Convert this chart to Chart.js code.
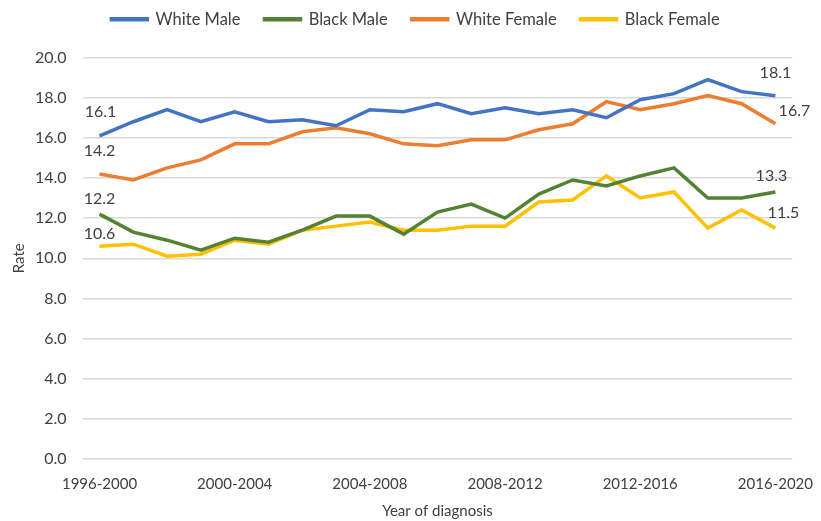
<!DOCTYPE html>
<html>
<head>
<meta charset="utf-8">
<script src="https://cdn.jsdelivr.net/npm/chart.js@4"></script>
<style>
  html, body { margin: 0; padding: 0; background: #fff; }
  #wrap { width: 821px; height: 521px; }
</style>
</head>
<body>
<div id="wrap"><canvas id="rateChart" width="821" height="521"></canvas></div>
<script>
// Year-of-diagnosis windows, 1996-2000 through 2016-2020
const periods = [];
for (let y = 1996; y <= 2016; y++) periods.push(y + '-' + (y + 4));

const whiteMale   = [16.1, 16.8, 17.4, 16.8, 17.3, 16.8, 16.9, 16.6, 17.4, 17.3, 17.7, 17.2, 17.5, 17.2, 17.4, 17.0, 17.9, 18.2, 18.9, 18.3, 18.1];
const blackMale   = [12.2, 11.3, 10.9, 10.4, 11.0, 10.8, 11.4, 12.1, 12.1, 11.2, 12.3, 12.7, 12.0, 13.2, 13.9, 13.6, 14.1, 14.5, 13.0, 13.0, 13.3];
const whiteFemale = [14.2, 13.9, 14.5, 14.9, 15.7, 15.7, 16.3, 16.5, 16.2, 15.7, 15.6, 15.9, 15.9, 16.4, 16.7, 17.8, 17.4, 17.7, 18.1, 17.7, 16.7];
const blackFemale = [10.6, 10.7, 10.1, 10.2, 10.9, 10.7, 11.4, 11.6, 11.8, 11.4, 11.4, 11.6, 11.6, 12.8, 12.9, 14.1, 13.0, 13.3, 11.5, 12.4, 11.5];

const yTicks = [0, 2, 4, 6, 8, 10, 12, 14, 16, 18, 20];

// where the first / last value labels sit relative to their point (per dataset)
const endLabelOffsets = [
    { first: [1, -24], last: [0, -23] },
    { first: [0, -15], last: [-4, -16] },
    { first: [0, -23], last: [19, -13] },
    { first: [0, -12], last: [8, -15] }
];

const textColor = '#404040';
const fontFamily = 'Lato, "Liberation Sans", sans-serif';

const endLabels = {
    id: 'endLabels',
    afterDatasetsDraw(chart) {
        const ctx = chart.ctx;
        ctx.save();
        ctx.font = '16px ' + fontFamily;
        ctx.fillStyle = textColor;
        ctx.textAlign = 'center';
        ctx.textBaseline = 'middle';
        chart.data.datasets.forEach((ds, i) => {
            const pts = chart.getDatasetMeta(i).data;
            const off = endLabelOffsets[i];
            const a = pts[0], b = pts[pts.length - 1];
            ctx.fillText(ds.data[0].toFixed(1), a.x + off.first[0], a.y + off.first[1]);
            ctx.fillText(ds.data[ds.data.length - 1].toFixed(1), b.x + off.last[0], b.y + off.last[1]);
        });
        ctx.restore();
    }
};

// leave some room between the legend and the plot
const legendGap = {
    id: 'legendGap',
    beforeInit(chart) {
        const fit = chart.legend.fit;
        chart.legend.fit = function () {
            fit.bind(chart.legend)();
            this.height += 20;
        };
    }
};

function series(label, data, color) {
    return {
        label: label,
        data: data,
        borderColor: color,
        backgroundColor: color,
        borderWidth: 3.5,
        pointRadius: 0,
        tension: 0,
        fill: false
    };
}

const ctx = document.getElementById('rateChart').getContext('2d');
new Chart(ctx, {
    type: 'line',
    data: {
        labels: periods,
        datasets: [
            series('White Male', whiteMale, '#4472C4'),
            series('Black Male', blackMale, '#548235'),
            series('White Female', whiteFemale, '#ED7D31'),
            series('Black Female', blackFemale, '#FFC000')
        ]
    },
    options: {
        responsive: false,
        animation: false,
        layout: { padding: { left: 6, right: -4, top: -13, bottom: 0 } },
        plugins: {
            legend: {
                position: 'top',
                labels: {
                    boxWidth: 36,
                    boxHeight: 1,
                    padding: 24,
                    color: textColor,
                    font: { size: 16.5, family: fontFamily }
                }
            },
            tooltip: { enabled: false }
        },
        scales: {
            x: {
                offset: true,
                grid: { display: false },
                border: { display: false },
                ticks: {
                    autoSkip: false,
                    maxRotation: 0,
                    padding: 8,
                    color: textColor,
                    font: { size: 15, family: fontFamily },
                    callback: function (val, idx) { return idx % 4 === 0 ? periods[idx] : null; }
                },
                title: {
                    display: true,
                    text: 'Year of diagnosis',
                    color: textColor,
                    padding: { top: 1, bottom: 1 },
                    font: { size: 15, family: fontFamily }
                }
            },
            y: {
                min: yTicks[0],
                max: yTicks[yTicks.length - 1],
                grid: { color: '#d9d9d9', lineWidth: 1.5, drawTicks: false },
                border: { display: false },
                afterBuildTicks: axis => { axis.ticks = yTicks.map(v => ({ value: v })); },
                ticks: {
                    color: textColor,
                    padding: 16,
                    font: { size: 16, family: fontFamily },
                    callback: v => v.toFixed(1)
                },
                title: {
                    display: true,
                    text: 'Rate',
                    color: textColor,
                    padding: { top: 4, bottom: -9 },
                    font: { size: 15, family: fontFamily }
                }
            }
        }
    },
    plugins: [endLabels, legendGap]
});
</script>
</body>
</html>
